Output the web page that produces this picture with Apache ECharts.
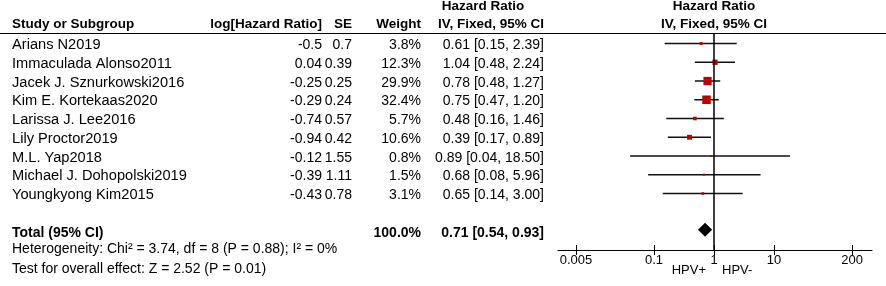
<!DOCTYPE html>
<html>
<head>
<meta charset="utf-8">
<script src="https://cdn.jsdelivr.net/npm/echarts@6/dist/echarts.min.js"></script>
<style>
html,body{margin:0;padding:0;background:#fff;}
#chart{width:886px;height:286px;}
</style>
</head>
<body>
<div id="chart"></div>
<script>
// ---- data ----
const studies = ['Arians N2019','Immaculada Alonso2011','Jacek J. Sznurkowski2016','Kim E. Kortekaas2020','Larissa J. Lee2016','Lily Proctor2019','M.L. Yap2018','Michael J. Dohopolski2019','Youngkyong Kim2015'];
const logHR = [-0.5, 0.04, -0.25, -0.29, -0.74, -0.94, -0.12, -0.39, -0.43];
const se = [0.7, 0.39, 0.25, 0.24, 0.57, 0.42, 1.55, 1.11, 0.78];
const weight = [3.8, 12.3, 29.9, 32.4, 5.7, 10.6, 0.8, 1.5, 3.1];
const hr = [0.61, 1.04, 0.78, 0.75, 0.48, 0.39, 0.89, 0.68, 0.65];
const ciLow = [0.15, 0.48, 0.48, 0.47, 0.16, 0.17, 0.04, 0.08, 0.14];
const ciHigh = [2.39, 2.24, 1.27, 1.20, 1.46, 0.89, 18.50, 5.96, 3.00];
const totalLabel = 'Total (95% CI)';
const totalWeight = 100.0;
const totalHR = 0.71, totalLow = 0.54, totalHigh = 0.93;
const tickValues = [0.005, 0.1, 1, 10, 200];
const tickLabels = ['0.005', '0.1', '1', '10', '200'];
const heterogeneityText = 'Heterogeneity: Chi\u00b2 = 3.74, df = 8 (P = 0.88); I\u00b2 = 0%';
const overallText = 'Test for overall effect: Z = 2.52 (P = 0.01)';
const favoursLeft = 'HPV+', favoursRight = 'HPV-';

// ---- layout ----
const FONT = 'Liberation Sans, Arial, sans-serif';
const colStudy = 12, colLog = 322, colSE = 352, colW = 421, colCI = 544;
const TOTAL_ROW = 10;
const Y_MIN = -0.56, Y_MAX = 11.013;
const RED = '#c00000';
const fmtCI = (h, l, u) => h.toFixed(2) + ' [' + l.toFixed(2) + ', ' + u.toFixed(2) + ']';

const tableData = studies.map((s, i) => [i]);
tableData.push([TOTAL_ROW]);
const forestData = studies.map((s, i) => [Math.log10(hr[i]), i, Math.log10(ciLow[i]), Math.log10(ciHigh[i]), weight[i]]);

const chart = echarts.init(document.getElementById('chart'), null, {renderer: 'canvas'});
const tickLogs = tickValues.map(v => Math.log10(v));
function labelFor(v) {
  let best = 0;
  tickLogs.forEach((t, k) => { if (Math.abs(t - v) < Math.abs(tickLogs[best] - v)) best = k; });
  return tickLabels[best];
}

function txt(text, x, y, align, bold, size, sx) {
  return {type: 'text', x: x, y: y, scaleX: sx || 1,
    style: {text: text, x: 0, y: 0, align: align, verticalAlign: 'middle',
    font: (bold ? 'bold ' : '') + (size || 14) + 'px ' + FONT, fill: '#000'}};
}

chart.setOption({
  animation: false,
  grid: [
    {left: 0, right: 0, top: 33, bottom: 36, containLabel: false, outerBoundsMode: 'none'},
    {left: 558, right: 14, top: 33, bottom: 36, containLabel: false, outerBoundsMode: 'none'}
  ],
  xAxis: [
    {gridIndex: 0, type: 'value', min: 0, max: 886, position: 'top',
      axisLine: {show: true, onZero: false, lineStyle: {color: '#000', width: 1}}, axisTick: {show: false}, axisLabel: {show: false}, splitLine: {show: false}},
    {gridIndex: 1, type: 'value', min: -2.6, max: 2.633, position: 'bottom',
      axisLine: {show: true, onZero: false, lineStyle: {color: '#000', width: 1}},
      axisTick: {show: true, length: 5, customValues: tickLogs, lineStyle: {color: '#000', width: 1}},
      axisLabel: {show: true, customValues: tickLogs, formatter: labelFor, margin: 4, color: '#000', fontSize: 13, fontFamily: FONT},
      splitLine: {show: false}},
    {gridIndex: 1, type: 'value', min: -2.6, max: 2.633, position: 'bottom', offset: 0,
      axisLine: {show: false, onZero: false}, axisLabel: {show: false},
      axisTick: {show: true, inside: true, length: 5, customValues: tickLogs, lineStyle: {color: '#000', width: 1}},
      splitLine: {show: false}}
  ],
  yAxis: [
    {gridIndex: 0, type: 'value', inverse: true, min: Y_MIN, max: Y_MAX, show: false},
    {gridIndex: 1, type: 'value', inverse: true, min: Y_MIN, max: Y_MAX, show: false}
  ],
  graphic: [
    txt('Study or Subgroup', colStudy, 24, 'left', true, 13.5),
    txt('log[Hazard Ratio]', colLog, 24, 'right', true, 13.5),
    txt('SE', colSE, 24, 'right', true, 13.5),
    txt('Weight', colW, 24, 'right', true, 13.5),
    txt('Hazard Ratio', 483, 6, 'center', true, 13.5),
    txt('IV, Fixed, 95% CI', colCI, 24, 'right', true, 13.5),
    txt('Hazard Ratio', 714, 6, 'center', true, 13.5),
    txt('IV, Fixed, 95% CI', 714, 24, 'center', true, 13.5),
    txt(heterogeneityText, colStudy, 249, 'left', false, 14),
    txt(overallText, colStudy, 269.5, 'left', false, 14),
    txt(favoursLeft, 706, 270.5, 'right', false, 13),
    txt(favoursRight, 722, 270.5, 'left', false, 13)
  ],
  series: [
    {
      type: 'custom', xAxisIndex: 0, yAxisIndex: 0, data: tableData, silent: true,
      dimensions: ['row'], encode: {y: 0},
      renderItem: function (params, api) {
        const i = api.value(0);
        const y = api.coord([0, i + 0.1])[1];
        if (i === TOTAL_ROW) {
          return {type: 'group', children: [
            txt(totalLabel, colStudy, y, 'left', true, 14),
            txt(totalWeight.toFixed(1) + '%', colW, y, 'right', true, 14),
            txt(fmtCI(totalHR, totalLow, totalHigh), colCI, y, 'right', true, 14)
          ]};
        }
        return {type: 'group', children: [
          txt(studies[i], colStudy, y, 'left', false, 14, 1.045),
          txt(String(logHR[i]), colLog, y, 'right', false, 14),
          txt(String(se[i]), colSE, y, 'right', false, 14),
          txt(weight[i].toFixed(1) + '%', colW, y, 'right', false, 14),
          txt(fmtCI(hr[i], ciLow[i], ciHigh[i]), colCI, y, 'right', false, 14)
        ]};
      }
    },
    {
      type: 'custom', xAxisIndex: 1, yAxisIndex: 1, data: forestData, silent: true,
      dimensions: ['hr', 'row', 'lo', 'hi', 'w'], encode: {x: 0, y: 1},
      renderItem: function (params, api) {
        const p = api.coord([api.value(0), api.value(1)]);
        const lo = api.coord([api.value(2), api.value(1)]);
        const hi = api.coord([api.value(3), api.value(1)]);
        const s = Math.max(2, 1.5 * Math.sqrt(api.value(4)));
        return {type: 'group', children: [
          {type: 'line', shape: {x1: lo[0], y1: lo[1], x2: hi[0], y2: hi[1]}, style: {stroke: '#111', lineWidth: 1.5}},
          {type: 'rect', shape: {x: p[0] - s / 2, y: p[1] - s / 2, width: s, height: s}, style: {fill: RED}}
        ]};
      },
      markLine: {silent: true, symbol: 'none', label: {show: false},
        lineStyle: {color: '#000', width: 1.5, type: 'solid'}, data: [{xAxis: 0}]}
    },
    {
      type: 'custom', xAxisIndex: 1, yAxisIndex: 1, silent: true,
      data: [[Math.log10(totalHR), TOTAL_ROW, Math.log10(totalLow), Math.log10(totalHigh)]],
      dimensions: ['hr', 'row', 'lo', 'hi'], encode: {x: 0, y: 1},
      renderItem: function (params, api) {
        const r = api.value(1) - 0.07;
        const c = api.coord([api.value(0), r]);
        const lo = api.coord([api.value(2), r]);
        const hi = api.coord([api.value(3), r]);
        return {type: 'polygon', shape: {points: [[lo[0], c[1]], [c[0], c[1] - 7], [hi[0], c[1]], [c[0], c[1] + 7]]},
          style: {fill: '#000'}};
      }
    }
  ]
});
</script>
</body>
</html>
